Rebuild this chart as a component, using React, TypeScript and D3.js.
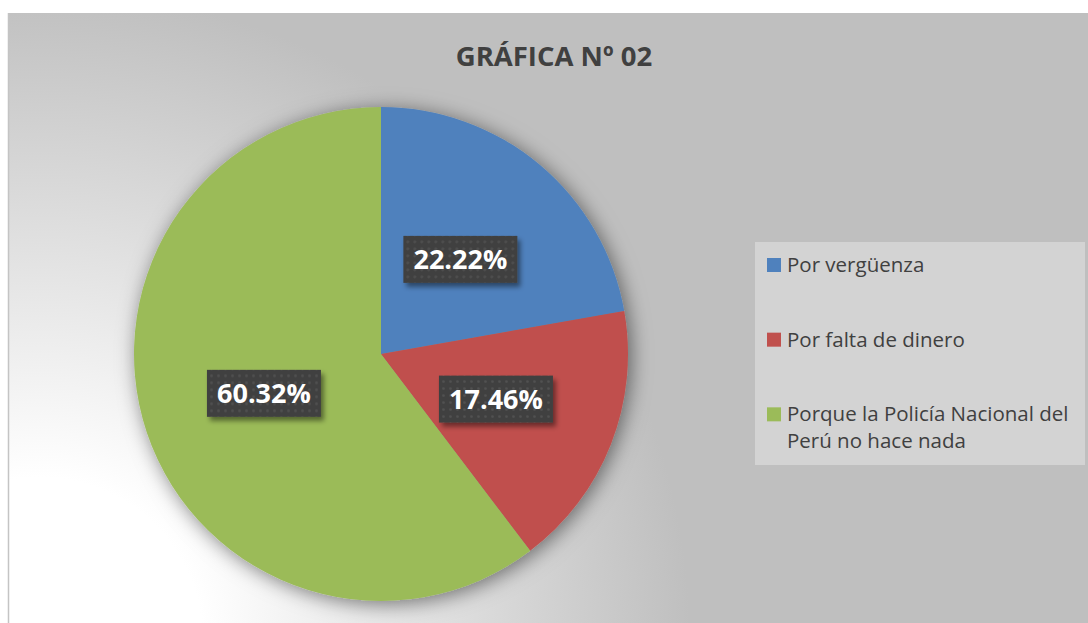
import React from "react";
import * as d3 from "d3";

const categories = [
  "Por vergüenza",
  "Por falta de dinero",
  "Porque la Policía Nacional del Perú no hace nada",
];
const legendLines = [
  ["Por vergüenza"],
  ["Por falta de dinero"],
  ["Porque la Policía Nacional del", "Perú no hace nada"],
];
const values = [22.22, 17.46, 60.32];
const labels = ["22.22%", "17.46%", "60.32%"];
const colors = ["#4f81bd", "#c0504d", "#9bbb59"];
const title = "GRÁFICA Nº 02";

const W = 1088;
const H = 623;
const cx = 381;
const cy = 354;
const R = 247;

export default function App() {
  const pie = d3.pie<number>().sort(null).value((d) => d)(values);
  const arc = d3.arc<d3.PieArcDatum<number>>().innerRadius(0).outerRadius(R);
  const labelArc = d3
    .arc<d3.PieArcDatum<number>>()
    .innerRadius(R * 0.5)
    .outerRadius(R * 0.5);
  const font = "'Open Sans', Calibri, sans-serif";
  const legendY = d3.scaleBand<number>().domain([0, 1, 2]).range([250, 474]);

  return (
    <svg
      width={W}
      height={H}
      style={{ position: "absolute", left: 0, top: 0 }}
      xmlns="http://www.w3.org/2000/svg"
    >
      <defs>
        <radialGradient
          id="bg"
          gradientUnits="userSpaceOnUse"
          cx={40}
          cy={640}
          r={650}
        >
          <stop offset="0" stopColor="#ffffff" />
          <stop offset="0.25" stopColor="#ffffff" />
          <stop offset="1" stopColor="#bfbfbf" />
        </radialGradient>
        <filter id="pieShadow" x="-20%" y="-20%" width="140%" height="140%">
          <feDropShadow
            dx="3"
            dy="3"
            stdDeviation="10"
            floodColor="#000"
            floodOpacity="0.5"
          />
        </filter>
        <filter id="boxShadow" x="-20%" y="-20%" width="140%" height="160%">
          <feDropShadow
            dx="3"
            dy="4"
            stdDeviation="2.5"
            floodColor="#000"
            floodOpacity="0.45"
          />
        </filter>
        <pattern id="dots" width="7" height="7" patternUnits="userSpaceOnUse">
          <rect width="7" height="7" fill="#404040" />
          <circle cx="3.5" cy="3.5" r="1.3" fill="#525252" />
        </pattern>
      </defs>
      <rect x={0} y={0} width={W} height={H} fill="#ffffff" />
      <rect x={8} y={13} width={W - 8} height={H - 13} fill="url(#bg)" />
      <line x1={8.5} y1={13} x2={8.5} y2={H} stroke="#c4c4c4" strokeWidth={1.5} />
      <text
        x={554}
        y={66}
        textAnchor="middle"
        fontFamily={font}
        fontWeight={700}
        fontSize={27.5}
        fill="#404040"
      >
        {title}
      </text>
      <g transform={`translate(${cx},${cy})`}>
        <g filter="url(#pieShadow)">
          {pie.map((p, i) => (
            <path key={categories[i]} d={arc(p) || ""} fill={colors[i]} />
          ))}
        </g>
        {pie.map((p, i) => {
          const [lx, ly] = labelArc.centroid(p);
          const bw = 114;
          const bh = 47;
          return (
            <g key={"l" + i} transform={`translate(${lx},${ly})`}>
              <rect
                x={-bw / 2}
                y={-bh / 2}
                width={bw}
                height={bh}
                fill="url(#dots)"
                filter="url(#boxShadow)"
              />
              <text
                x={0}
                y={10}
                textAnchor="middle"
                fontFamily={font}
                fontWeight={700}
                fontSize={27}
                fill="#ffffff"
              >
                {labels[i]}
              </text>
            </g>
          );
        })}
      </g>
      <rect x={755} y={242} width={330} height={223} fill="#d3d3d3" />
      {legendLines.map((lines, i) => {
        const y0 = (legendY(i) || 0) + 8;
        return (
          <g key={"lg" + i}>
            <rect x={767} y={y0} width={14} height={14} fill={colors[i]} />
            <text fontFamily={font} fontSize={20.5} fill="#404040">
              {lines.map((t, j) => (
                <tspan key={j} x={787} y={y0 + 14 + j * 27}>
                  {t}
                </tspan>
              ))}
            </text>
          </g>
        );
      })}
    </svg>
  );
}
